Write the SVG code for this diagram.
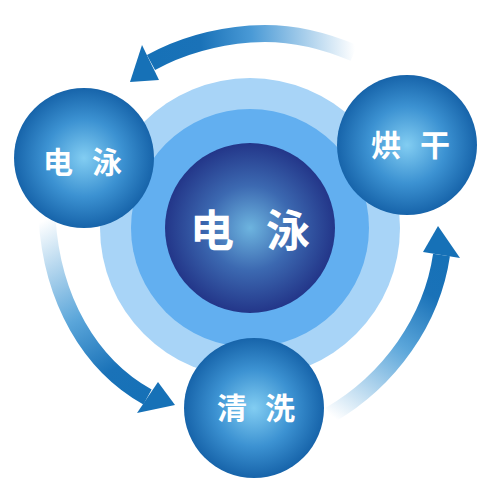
<svg xmlns="http://www.w3.org/2000/svg" width="500" height="500" viewBox="0 0 500 500">
<style>
.band{fill:none;stroke-width:17;stroke-linecap:butt}
.head{fill:#1671b7}
.lbl{font-family:"Noto Sans CJK SC","Noto Sans CJK JP",sans-serif;fill:#fff;font-weight:bold;text-anchor:middle;dominant-baseline:central}
.small{font-size:30px}
.big{font-size:44px}
</style>
<defs>
<radialGradient id="gSmall" cx="0.5" cy="0.5" r="0.5">
<stop offset="0" stop-color="#82cdf2"/>
<stop offset="0.55" stop-color="#3c92d2"/>
<stop offset="1" stop-color="#1764aa"/>
</radialGradient>
<radialGradient id="gBig" cx="0.5" cy="0.5" r="0.5">
<stop offset="0" stop-color="#6db4df"/>
<stop offset="0.5" stop-color="#3c69b1"/>
<stop offset="1" stop-color="#233689"/>
</radialGradient>
<linearGradient id="gTop" gradientUnits="userSpaceOnUse" x1="355" y1="50" x2="150" y2="60">
<stop offset="0" stop-color="#ffffff"/>
<stop offset="0.5" stop-color="#4a9ad6"/>
<stop offset="0.75" stop-color="#1a72b8"/>
<stop offset="1" stop-color="#1671b7"/>
</linearGradient>
<linearGradient id="gLeft" gradientUnits="userSpaceOnUse" x1="48" y1="218" x2="148" y2="397">
<stop offset="0" stop-color="#ffffff"/>
<stop offset="0.5" stop-color="#5ba6da"/>
<stop offset="0.8" stop-color="#1a72b8"/>
<stop offset="1" stop-color="#1671b7"/>
</linearGradient>
<linearGradient id="gRight" gradientUnits="userSpaceOnUse" x1="330" y1="415" x2="441" y2="255">
<stop offset="0" stop-color="#ffffff"/>
<stop offset="0.5" stop-color="#5ba6da"/>
<stop offset="0.8" stop-color="#1a72b8"/>
<stop offset="1" stop-color="#1671b7"/>
</linearGradient>
</defs>
<rect width="500" height="500" fill="#fff"/>
<g id="rings">
<circle cx="250" cy="228" r="150" fill="#a8d4f7"/>
<circle cx="250" cy="228" r="119" fill="#62aff0"/>
</g>
<g id="connectors">
<path class="band" stroke="url(#gTop)" d="M354,53 Q300,30 250,34 Q195,38.4 151,62.5"/>
<polygon class="head" points="142,45 130,82 159,80"/>
<path class="band" stroke="url(#gLeft)" d="M47,218 C52,300 90,365 147.5,397"/>
<polygon class="head" points="158,382 175,405 137,413"/>
<path class="band" stroke="url(#gRight)" d="M330,415 C390,380 432,320 441.5,255"/>
<polygon class="head" points="423,252 438,226 460,258"/>
</g>
<g id="center">
<circle cx="250" cy="228" r="85" fill="url(#gBig)"/>
<text class="lbl big" y="228"><tspan x="212">电</tspan><tspan x="288">泳</tspan></text>
</g>
<g id="node-left">
<circle cx="84" cy="158" r="70" fill="url(#gSmall)"/>
<text class="lbl small" y="160"><tspan x="58">电</tspan><tspan x="107">泳</tspan></text>
</g>
<g id="node-right">
<circle cx="407" cy="145" r="70" fill="url(#gSmall)"/>
<text class="lbl small" y="143"><tspan x="386">烘</tspan><tspan x="435">干</tspan></text>
</g>
<g id="node-bottom">
<circle cx="254" cy="408" r="70" fill="url(#gSmall)"/>
<text class="lbl small" y="406"><tspan x="232">清</tspan><tspan x="280">洗</tspan></text>
</g>
</svg>
